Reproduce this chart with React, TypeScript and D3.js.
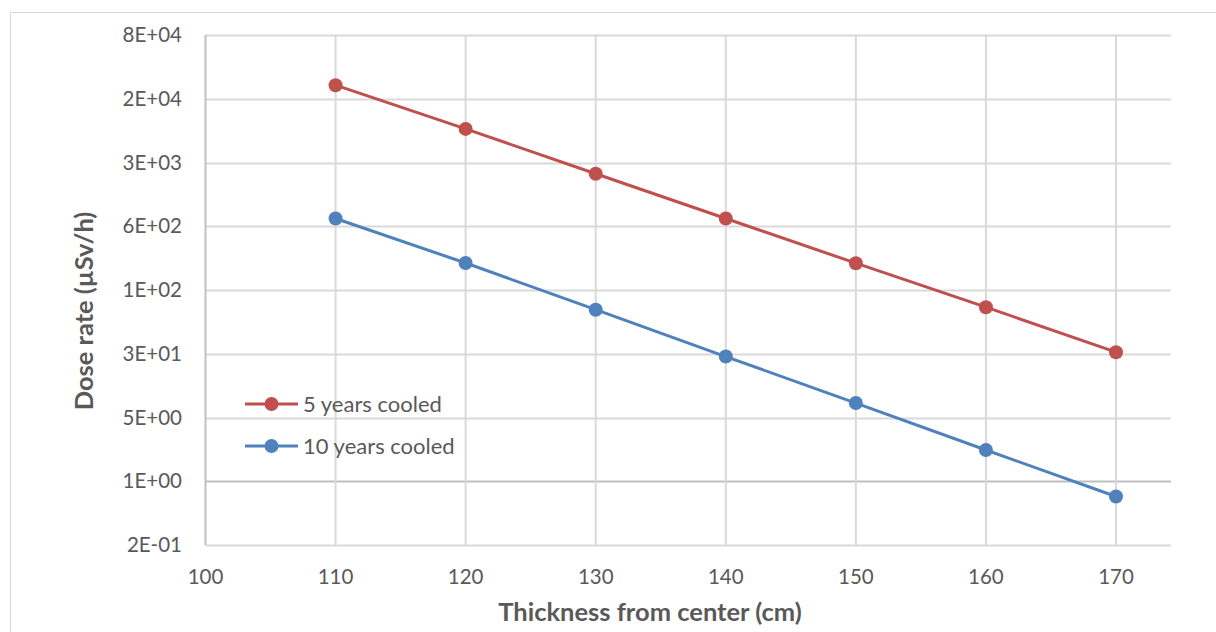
import React, { useEffect, useRef } from 'react';
import * as d3 from 'd3';

// thickness from center (cm)
const thickness = [110, 120, 130, 140, 150, 160, 170];
// dose rate (µSv/h)
const cooled5 = [22000, 7300, 2350, 760, 246, 81, 26];
const cooled10 = [760, 247, 76, 23.3, 7.2, 2.2, 0.68];
const seriesNames = ['5 years cooled', '10 years cooled'];
const seriesColors = ['#c0504d', '#4f81bd'];
const xTicks = [100, 110, 120, 130, 140, 150, 160, 170];
const yTicks = [0.2, 1, 5, 25, 125, 625, 3125, 15625, 78125];
const yTickLabels = ['2E-01', '1E+00', '5E+00', '3E+01', '1E+02', '6E+02', '3E+03', '2E+04', '8E+04'];

const FONT = 'Lato, "Open Sans", sans-serif';

const App = () => {
  const svgRef = useRef<SVGSVGElement>(null);

  useEffect(() => {
    const svg = d3.select(svgRef.current);
    svg.selectAll('*').remove();

    const width = 1216;
    const height = 632;
    const plot = { left: 205.5, right: 1171, top: 35, bottom: 545 };

    svg.attr('width', width).attr('height', height);

    // chart border
    svg.append('rect')
      .attr('x', 10.5).attr('y', 12.5)
      .attr('width', width).attr('height', height)
      .attr('fill', 'white')
      .attr('stroke', '#d9d9d9');

    const x = d3.scaleLinear().domain([100, 170]).range([plot.left, 1116]);
    const y = d3.scaleLog().base(5).domain([0.2, 78125]).range([plot.bottom, plot.top]);

    const grid = svg.append('g');
    grid.selectAll('.hg')
      .data(yTicks)
      .enter().append('line')
      .attr('x1', plot.left).attr('x2', plot.right)
      .attr('y1', d => Math.round(y(d)) + 0.5)
      .attr('y2', d => Math.round(y(d)) + 0.5)
      .attr('stroke', d => (d === 1 ? '#bfbfbf' : '#d9d9d9'))
      .attr('stroke-width', 2);

    grid.selectAll('.vg')
      .data(xTicks.slice(1))
      .enter().append('line')
      .attr('x1', d => x(d)).attr('x2', d => x(d))
      .attr('y1', plot.top).attr('y2', plot.bottom)
      .attr('stroke', '#d9d9d9')
      .attr('stroke-width', 2);

    // vertical axis line
    svg.append('line')
      .attr('x1', plot.left).attr('x2', plot.left)
      .attr('y1', plot.top).attr('y2', plot.bottom)
      .attr('stroke', '#bfbfbf')
      .attr('stroke-width', 2);

    // tick labels
    svg.append('g').selectAll('text')
      .data(yTicks)
      .enter().append('text')
      .attr('x', 182)
      .attr('y', d => y(d))
      .attr('dy', '0.35em')
      .attr('text-anchor', 'end')
      .attr('font-family', FONT)
      .attr('font-size', 20.5)
      .attr('fill', '#595959')
      .text((d, i) => yTickLabels[i]);

    svg.append('g').selectAll('text')
      .data(xTicks)
      .enter().append('text')
      .attr('x', d => x(d))
      .attr('y', 577)
      .attr('dy', '0.35em')
      .attr('text-anchor', 'middle')
      .attr('font-family', FONT)
      .attr('font-size', 20.5)
      .attr('fill', '#595959')
      .text(d => d);

    // axis titles
    svg.append('text')
      .attr('transform', 'translate(84,311) rotate(-90)')
      .attr('text-anchor', 'middle')
      .attr('dy', '0.35em')
      .attr('font-family', FONT)
      .attr('font-size', 25.5)
      .attr('font-weight', 'bold')
      .attr('fill', '#595959')
      .text('Dose rate (µSv/h)');

    svg.append('text')
      .attr('x', 650)
      .attr('y', 612)
      .attr('dy', '0.35em')
      .attr('text-anchor', 'middle')
      .attr('font-family', FONT)
      .attr('font-size', 25.5)
      .attr('font-weight', 'bold')
      .attr('fill', '#595959')
      .text('Thickness from center (cm)');

    // series
    const line = d3.line<number>()
      .x((d, i) => x(thickness[i]))
      .y(d => y(d));

    [cooled5, cooled10].forEach((values, s) => {
      const g = svg.append('g');
      g.append('path')
        .datum(values)
        .attr('d', line)
        .attr('fill', 'none')
        .attr('stroke', seriesColors[s])
        .attr('stroke-width', 3);
      g.selectAll('circle')
        .data(values)
        .enter().append('circle')
        .attr('cx', (d, i) => x(thickness[i]))
        .attr('cy', d => y(d))
        .attr('r', 7)
        .attr('fill', seriesColors[s]);
    });

    // legend
    const legend = svg.selectAll('.legend')
      .data(seriesNames)
      .enter().append('g')
      .attr('class', 'legend')
      .attr('transform', (d, i) => `translate(245, ${404 + i * 42})`);

    legend.append('line')
      .attr('x1', 0).attr('x2', 53)
      .attr('stroke', (d, i) => seriesColors[i])
      .attr('stroke-width', 3);
    legend.append('circle')
      .attr('cx', 26.5)
      .attr('r', 7)
      .attr('fill', (d, i) => seriesColors[i]);
    legend.append('text')
      .attr('x', 58)
      .attr('dy', '0.35em')
      .attr('font-family', FONT)
      .attr('font-size', 22)
      .attr('fill', '#595959')
      .text(d => d);
  }, []);

  return <svg ref={svgRef} style={{ position: 'absolute', left: 0, top: 0 }}></svg>;
};

export default App;
